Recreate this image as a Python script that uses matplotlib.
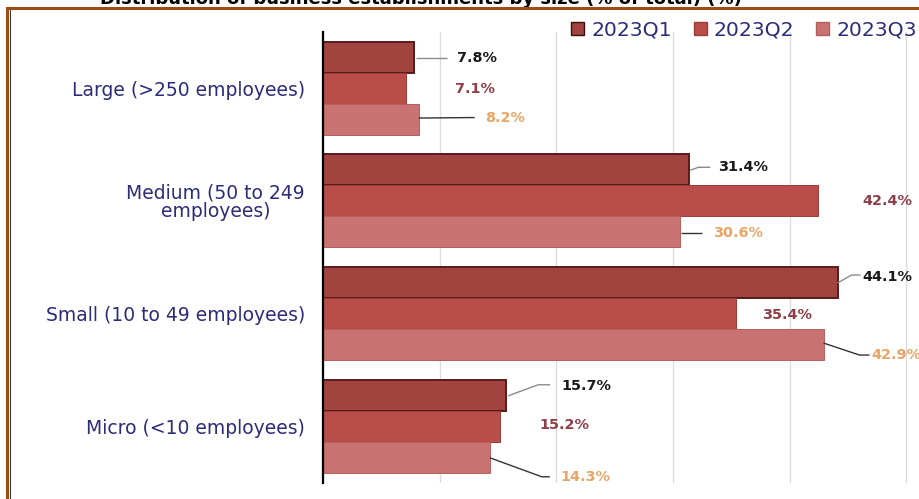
import matplotlib
matplotlib.use("Agg")
import matplotlib.pyplot as plt
from matplotlib.patches import Rectangle, Patch
from matplotlib.lines import Line2D
import numpy as np

# ---- data ----
categories = ["Large (>250 employees)", "Medium (50 to 249\nemployees)",
              "Small (10 to 49 employees)", "Micro (<10 employees)"]
series_names = ["2023Q1", "2023Q2", "2023Q3"]
q1_values = [7.8, 31.4, 44.1, 15.7]
q2_values = [7.1, 42.4, 35.4, 15.2]
q3_values = [8.2, 30.6, 42.9, 14.3]
title_text = "Distribution of business establishments by size (% of total) (%)"

# ---- styles ----
fill_colors = ["#a1443f", "#b84d4a", "#c87371"]
edge_colors = ["#5a1a1a", "#9a3c3a", "#b55f5d"]
edge_widths = [1.4, 0.7, 0.7]
label_colors = ["#1a1a1a", "#8e3f47", "#e9a565"]
leader_colors = ["#8a8a8a", None, "#333333"]
navy = "#2c2c78"

# label placement, pixel offsets from bar end / bar centre (x right, y down)
label_offsets = [
    [(43, 1), (49, 1), (66, -1)],
    [(29, -2.5), (45, 0.5), (33, 1.5)],
    [(25, -5.5), (26, 1.5), (48, 10.5)],
    [(55, -9), (39, -1.5), (71, 19.5)],
]
# leader polylines, pixel offsets from bar end / bar centre (x right, y down)
leader_paths = [
    [[(2, 1), (33, 1)], None, [(0, -1), (56, -1.5)]],
    [[(1, 0.5), (9, -2.5), (21, -2.5)], None, [(1, 1.5), (22, 1.5)]],
    [[(0, 0.5), (14, -7.5), (23, -7.5)], None, [(0, -1.5), (36, 10.5), (46, 10.5)]],
    [[(2, 0.5), (32, -10.5), (44, -10.5)], None, [(0, 0.5), (52, 19.5), (60, 19.5)]],
]

W, H, DPI = 920, 499, 100
fig = plt.figure(figsize=(W / DPI, H / DPI), dpi=DPI)
fig.patch.set_facecolor("white")

ax = fig.add_axes([323 / W, (H - 483) / H, (W - 323) / W, (483 - 32) / H])
ax.set_xlim(0, (W - 323) / 11.667)
ax.set_ylim(3.503, -0.497)

bar_h = 0.275
y = np.arange(len(categories))
all_values = [q1_values, q2_values, q3_values]
for i, vals in enumerate(all_values):
    ax.barh(y + (i - 1) * bar_h, vals, height=bar_h, color=fill_colors[i],
            edgecolor=edge_colors[i], linewidth=edge_widths[i], zorder=3,
            label=series_names[i])

# grid and spines
ax.set_xticks(np.arange(0, 51, 10))
ax.xaxis.grid(True, color="#dcdcdc", linewidth=1.0, zorder=0)
ax.set_axisbelow(True)
ax.tick_params(axis="x", length=0, labelbottom=False)
for s in ["top", "right", "bottom"]:
    ax.spines[s].set_visible(False)
ax.spines["left"].set_linewidth(1.6)
ax.spines["left"].set_color("black")
ax.spines["left"].set_zorder(5)

ax.set_yticks(y)
ax.set_yticklabels(categories, fontsize=13.5, color=navy, linespacing=0.92)
ax.tick_params(axis="y", length=0, pad=13)
for lbl in ax.get_yticklabels():
    lbl.set_multialignment("center")

# value labels and leader lines
to_disp = ax.transData
to_data = ax.transData.inverted()
for c in range(len(categories)):
    for i, vals in enumerate(all_values):
        v = vals[c]
        yc = y[c] + (i - 1) * bar_h
        px, py = to_disp.transform((v, yc))
        dx, dy = label_offsets[c][i]
        ax.annotate(f"{v:.1f}%", xy=(v, yc), xytext=(dx, -dy),
                    textcoords="offset pixels", ha="left", va="center",
                    fontsize=10.4, fontweight="bold", color=label_colors[i],
                    zorder=6)
        path = leader_paths[c][i]
        if path:
            pts = [to_data.transform((px + ox, py - oy)) for ox, oy in path]
            xs, ys = zip(*pts)
            ax.plot(xs, ys, color=leader_colors[i], linewidth=1.0, zorder=4,
                    solid_capstyle="butt")

# legend
handles = [Patch(facecolor=fill_colors[i], edgecolor=edge_colors[i] if i else "#3a0f0f",
                 linewidth=1.0) for i in range(3)]
fig.legend(handles, series_names, loc="center left",
           bbox_to_anchor=(571 / W, 1 - 30 / H), ncol=3, frameon=False,
           fontsize=14.7, labelcolor=navy, handlelength=0.64, handleheight=0.6,
           handletextpad=0.34, columnspacing=1.08, borderpad=0, borderaxespad=0)

# outer frame
fig.add_artist(Rectangle((7.5 / W, -20 / H), (W + 40) / W, (H - 8 + 20) / H,
                         transform=fig.transFigure, fill=False,
                         edgecolor="#9c4d14", linewidth=2.2, zorder=10))
fig.add_artist(Line2D([10 / W, 10 / W], [-0.05, (H - 10) / H],
                      transform=fig.transFigure, color="#3a3a3a", linewidth=0.8,
                      zorder=10))

# title (runs off the top edge)
fig.text(421 / W, 1 - 4 / H, title_text, ha="center", va="baseline",
         fontsize=13, fontweight="bold", color="black")

fig.savefig("out.png", dpi=DPI, facecolor="white")
